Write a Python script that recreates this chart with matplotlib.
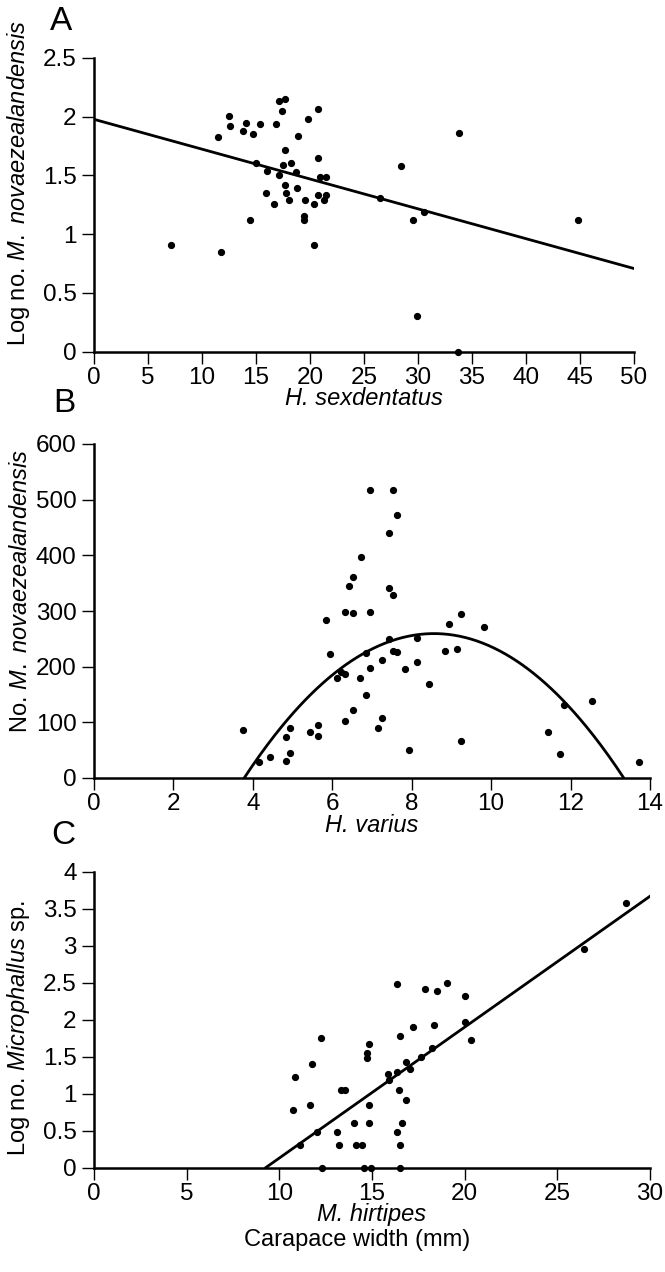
import numpy as np
import matplotlib
matplotlib.use('Agg')
import matplotlib.pyplot as plt

# Panel A - H. sexdentatus vs log no. M. novaezealandensis
a_x = [11.45, 12.47, 12.56, 13.77, 14.04, 14.75, 15.37, 14.97, 14.47, 7.16,
       11.76, 16.85, 17.13, 17.65, 17.38, 19.85, 20.77, 18.86, 17.65, 18.27,
       17.47, 16.05, 17.16, 18.73, 20.77, 20.95, 21.45, 17.69, 18.77, 15.96,
       17.77, 18.06, 16.64, 19.57, 20.37, 20.77, 21.48, 21.3, 19.44, 19.44,
       20.37, 26.48, 28.45, 29.57, 30.58, 33.77, 29.88, 33.67, 44.84]
a_y = [1.83, 2.01, 1.92, 1.875, 1.95, 1.85, 1.94, 1.61, 1.12, 0.91,
       0.85, 1.94, 2.13, 2.15, 2.05, 1.98, 2.07, 1.84, 1.72, 1.61,
       1.59, 1.54, 1.50, 1.53, 1.65, 1.49, 1.49, 1.42, 1.39, 1.35,
       1.35, 1.29, 1.26, 1.29, 1.26, 1.33, 1.33, 1.29, 1.155, 1.12,
       0.91, 1.31, 1.58, 1.12, 1.19, 1.86, 0.30, 0.0, 1.12]
a_fit = [-0.0254, 1.978]  # slope, intercept

# Panel B - H. varius vs no. M. novaezealandensis
b_x = [3.74, 4.15, 4.44, 4.84, 4.94, 4.84, 4.94, 5.44, 5.64, 5.64,
       5.84, 5.93, 6.13, 6.23, 6.33, 6.33, 6.53, 6.33, 6.53, 6.43,
       6.53, 6.72, 6.70, 6.94, 7.54, 7.64, 7.44, 7.44, 7.54, 6.94,
       6.84, 7.44, 7.54, 7.64, 6.94, 7.24, 6.84, 7.24, 7.14, 7.84,
       8.14, 8.14, 8.43, 7.94, 8.84, 8.94, 9.14, 9.24, 9.83, 9.24,
       11.43, 11.73, 11.83, 12.53, 13.73]
b_y = [86, 28, 38, 30, 45, 74, 90, 82, 75, 95,
       284, 222, 179, 190, 186, 102, 122, 298, 297, 345,
       361, 397, 179, 517, 517, 473, 440, 342, 328, 299,
       224, 249, 228, 227, 197, 212, 149, 108, 90, 196,
       251, 208, 168, 50, 229, 276, 231, 295, 272, 67,
       83, 43, 132, 139, 28]
b_fit = [-11.36, 194.5, -573.1]  # quadratic coefficients

# Panel C - M. hirtipes vs log no. Microphallus sp.
c_x = [12.25, 11.75, 10.85, 10.76, 11.64, 13.31, 13.56, 12.05, 11.13, 13.13,
       13.24, 14.05, 14.14, 12.30, 14.45, 14.55, 14.95, 14.84, 14.84, 14.84,
       14.75, 14.75, 15.85, 15.94, 16.33, 16.33, 16.53, 16.44, 16.84, 16.64,
       16.33, 16.53, 16.53, 16.84, 17.04, 17.23, 17.63, 17.85, 18.24, 18.33,
       18.53, 19.03, 20.04, 20.04, 20.35, 26.44, 28.7]
c_y = [1.75, 1.40, 1.23, 0.78, 0.845, 1.05, 1.05, 0.48, 0.30, 0.48,
       0.30, 0.605, 0.30, 0.0, 0.30, 0.0, 0.0, 0.605, 0.845, 1.67,
       1.55, 1.48, 1.26, 1.18, 1.29, 2.48, 1.78, 1.05, 0.91, 0.605,
       0.48, 0.30, 0.0, 1.43, 1.33, 1.895, 1.49, 2.41, 1.615, 1.93,
       2.38, 2.49, 2.32, 1.97, 1.72, 2.95, 3.58]
c_fit = [0.177, -1.642]  # slope, intercept

plt.rcParams['font.family'] = ['Liberation Sans', 'DejaVu Sans']
plt.rcParams['mathtext.fontset'] = 'custom'
plt.rcParams['mathtext.rm'] = 'Liberation Sans'
plt.rcParams['mathtext.it'] = 'Liberation Sans:italic'

TFS = 17.5  # tick labels
LFS = 17    # axis labels

fig = plt.figure(figsize=(6.65, 12.72), dpi=100)
W, H = 665.0, 1272.0


def make_axes(left, right, top, bottom):
    ax = fig.add_axes([left / W, 1 - bottom / H, (right - left) / W, (bottom - top) / H])
    for s in ['top', 'right']:
        ax.spines[s].set_visible(False)
    for s in ['left', 'bottom']:
        ax.spines[s].set_linewidth(1.8)
    ax.tick_params(direction='out', width=1.0, labelsize=TFS)
    ax.tick_params(axis='x', length=8.3, pad=2.5)
    ax.tick_params(axis='y', length=9, pad=3.5)
    return ax


dot = dict(linestyle='none', marker='o', markersize=4.2, color='black', clip_on=False)

# A
axA = make_axes(94, 634, 58, 351.7)
axA.plot(a_x, a_y, **dot)
xs = np.array([0, 50])
axA.plot(xs, np.polyval(a_fit, xs), color='black', lw=2)
axA.set_xlim(0, 50)
axA.set_ylim(0, 2.5)
axA.set_xticks(np.arange(0, 51, 5))
axA.set_yticks([0, 0.5, 1, 1.5, 2, 2.5])
axA.set_yticklabels(['0', '0.5', '1', '1.5', '2', '2.5'])
axA.set_xlabel('H. sexdentatus', fontsize=LFS, fontstyle='italic', labelpad=-1)
axA.set_ylabel(r'Log no. $\it{M.}$ $\it{novaezealandensis}$', fontsize=LFS)
axA.yaxis.set_label_coords(-0.115, 0.573)

# B
axB = make_axes(94, 650, 444, 778)
axB.plot(b_x, b_y, **dot)
r = np.sort(np.roots(b_fit).real)
xs = np.linspace(r[0], r[1], 200)
axB.plot(xs, np.polyval(b_fit, xs), color='black', lw=2)
axB.set_xlim(0, 14)
axB.set_ylim(0, 600)
axB.set_xticks(np.arange(0, 15, 2))
axB.set_yticks(np.arange(0, 601, 100))
axB.set_xlabel('H. varius', fontsize=LFS, fontstyle='italic', labelpad=-1)
axB.set_ylabel(r'No. $\it{M.}$ $\it{novaezealandensis}$', fontsize=LFS)
axB.yaxis.set_label_coords(-0.112, 0.56)

# C
axC = make_axes(94, 650, 871.7, 1167.5)
axC.plot(c_x, c_y, **dot)
xs = np.array([-c_fit[1] / c_fit[0], 30])
axC.plot(xs, np.polyval(c_fit, xs), color='black', lw=2)
axC.set_xlim(0, 30)
axC.set_ylim(0, 4)
axC.set_xticks(np.arange(0, 31, 5))
axC.set_yticks(np.arange(0, 4.01, 0.5))
axC.set_yticklabels(['0', '0.5', '1', '1.5', '2', '2.5', '3', '3.5', '4'])
axC.set_xlabel('M. hirtipes', fontsize=LFS, fontstyle='italic', labelpad=-1)
axC.set_ylabel(r'Log no. $\it{Microphallus}$ sp.', fontsize=LFS)
axC.yaxis.set_label_coords(-0.112, 0.47)

fig.text(357 / W, 1 - 1240 / H, 'Carapace width (mm)', fontsize=LFS, ha='center', va='center')

for letter, (px, py) in zip(['A', 'B', 'C'], [(61, 22), (64, 404), (63, 835)]):
    fig.text(px / W, 1 - py / H, letter, fontsize=24, ha='center', va='center')

fig.savefig('out.png', dpi=100)
